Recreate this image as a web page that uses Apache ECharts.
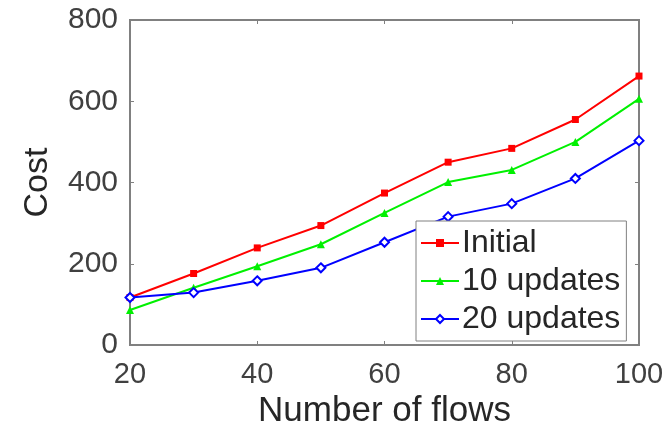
<!DOCTYPE html>
<html style="height: 100%">
<head>
    <meta charset="utf-8">
</head>
<body style="height: 100%; margin: 0; background-color: #fff;">
<div id="container" style="width: 667px; height: 434px"></div>
<script type="text/javascript" src="https://cdn.jsdelivr.net/npm/echarts@6/dist/echarts.min.js"></script>
<script type="text/javascript">
    var flows = [20, 30, 40, 50, 60, 70, 80, 90, 100];
    var initial = [117, 176, 239, 294, 374, 450, 484, 555, 662];
    var upd10 = [86, 141, 194, 248, 325, 401, 431, 500, 606];
    var upd20 = [117, 129, 158, 190, 253, 316, 348, 410, 503];

    var font = 'Liberation Sans, Arial, sans-serif';
    var axisGray = '#808080';

    function pairs(vals) {
        return vals.map(function (v, i) { return [flows[i], v]; });
    }

    var myChart = echarts.init(document.getElementById('container'));

    var edgeAxis = {
        type: 'value',
        axisLine: {show: true, onZero: false, lineStyle: {color: axisGray, width: 2}},
        axisTick: {show: true, inside: true, length: 4, lineStyle: {color: axisGray}},
        axisLabel: {show: false},
        splitLine: {show: false}
    };

    var option = {
        animation: false,
        grid: {left: 130, right: 28, top: 20, bottom: 86, containLabel: false,
               show: true, borderColor: axisGray, borderWidth: 2},
        legend: {
            orient: 'vertical',
            left: 416,
            top: 221,
            padding: [6, 6, 6, 4],
            itemGap: 6,
            itemWidth: 38,
            itemHeight: 10,
            backgroundColor: '#fff',
            borderColor: axisGray,
            borderWidth: 1,
            textStyle: {fontFamily: font, fontSize: 32, color: '#262626', padding: [0, 0, 0, -2]},
            data: ['Initial', '10 updates', '20 updates']
        },
        xAxis: [{
            type: 'value', min: 20, max: 100, interval: 20,
            name: 'Number of flows', nameLocation: 'middle', nameGap: 49,
            nameTextStyle: {fontFamily: font, fontSize: 35, color: '#262626'},
            axisLine: {show: true, onZero: false, lineStyle: {color: axisGray, width: 1.5}},
            axisTick: {show: true, inside: true, length: 4, lineStyle: {color: axisGray}},
            axisLabel: {fontFamily: font, fontSize: 29, color: '#404040', margin: 15},
            splitLine: {show: false}
        }, Object.assign({position: 'top', min: 20, max: 100, interval: 20}, edgeAxis)],
        yAxis: [{
            type: 'value', min: 0, max: 800, interval: 200,
            name: 'Cost', nameLocation: 'middle', nameGap: 75,
            nameTextStyle: {fontFamily: font, fontSize: 34, color: '#262626'},
            axisLine: {show: true, onZero: false, lineStyle: {color: axisGray, width: 1.5}},
            axisTick: {show: true, inside: true, length: 4, lineStyle: {color: axisGray}},
            axisLabel: {fontFamily: font, fontSize: 30, color: '#404040', margin: 12},
            splitLine: {show: false}
        }, Object.assign({position: 'right', min: 0, max: 800, interval: 200}, edgeAxis)],
        series: [
            {
                name: 'Initial', type: 'line', data: pairs(initial),
                symbol: 'rect', symbolSize: 7,
                lineStyle: {color: '#ff0000', width: 2},
                itemStyle: {color: '#ff0000'}
            },
            {
                name: '10 updates', type: 'line', data: pairs(upd10),
                symbol: 'triangle', symbolSize: 8,
                lineStyle: {color: '#00f000', width: 2},
                itemStyle: {color: '#00f000'}
            },
            {
                name: '20 updates', type: 'line', data: pairs(upd20),
                symbol: 'emptyDiamond', symbolSize: 9,
                lineStyle: {color: '#0000ff', width: 2},
                itemStyle: {color: '#0000ff', borderWidth: 2}
            }
        ]
    };

    myChart.setOption(option);
</script>
</body>
</html>
